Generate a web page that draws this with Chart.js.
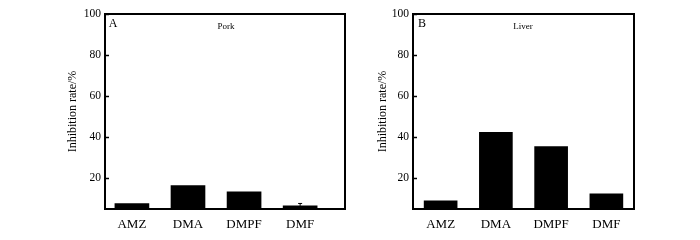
<!DOCTYPE html>
<html lang="en">
<head>
    <meta charset="UTF-8">
    <title>Inhibition rate</title>
    <style>
        body { margin: 0; background: #fff; }
        .wrap { position: relative; width: 700px; height: 240px; }
        .box { position: absolute; top: 0; width: 350px; height: 240px; }
    </style>
    <script src="https://cdn.jsdelivr.net/npm/chart.js"></script>
</head>
<body>
    <div class="wrap">
        <div class="box" style="left:0"><canvas id="chartA"></canvas></div>
        <div class="box" style="left:350px"><canvas id="chartB"></canvas></div>
    </div>

    <script>
        const categories = ['AMZ', 'DMA', 'DMPF', 'DMF'];
        const positionsA = [1, 2, 3, 4];
        const porkValues = [7.6, 16.4, 13.4, 6.5];
        const porkErrors = [0, 0, 0, 1.2];
        const liverValues = [9.0, 42.4, 35.4, 12.4];
        const liverErrors = [0, 0, 0, 0];
        const yTicks = [20, 40, 60, 80, 100];

        const serif = '"Liberation Serif", "Times New Roman", serif';

        function makeChart(id, letter, name, values, errors, opt) {
            const framePlugin = {
                id: 'frame',
                afterDatasetsDraw(chart) {
                    const { ctx, chartArea: a, scales } = chart;
                    ctx.save();
                    ctx.strokeStyle = '#000';
                    // error bars
                    ctx.lineWidth = 1;
                    values.forEach((v, i) => {
                        if (!errors[i]) return;
                        const x = scales.x.getPixelForValue(positionsA[i]);
                        const y0 = scales.y.getPixelForValue(v);
                        const y1 = scales.y.getPixelForValue(v + errors[i]);
                        ctx.beginPath();
                        ctx.moveTo(x, y0); ctx.lineTo(x, y1);
                        ctx.moveTo(x - 2, y1); ctx.lineTo(x + 2, y1);
                        ctx.stroke();
                    });
                    // inward y ticks
                    ctx.lineWidth = 1.5;
                    scales.y.ticks.forEach(t => {
                        const y = Math.round(scales.y.getPixelForValue(t.value)) + 0.5;
                        ctx.beginPath();
                        ctx.moveTo(a.left, y); ctx.lineTo(a.left + 4, y);
                        ctx.stroke();
                    });
                    // box
                    ctx.lineWidth = 2;
                    ctx.strokeRect(a.left, a.top, a.right - a.left, a.bottom - a.top);
                    // texts
                    ctx.fillStyle = '#000';
                    ctx.textBaseline = 'middle';
                    ctx.textAlign = 'center';
                    ctx.font = '12px ' + serif;
                    ctx.fillText(letter, a.left + opt.letterDx, 24);
                    ctx.font = '9px ' + serif;
                    ctx.fillText(name, opt.nameX, 27);
                    ctx.restore();
                }
            };

            return new Chart(document.getElementById(id), {
                type: 'bar',
                data: {
                    datasets: [{
                        data: positionsA.map((p, i) => ({ x: p, y: values[i] })),
                        backgroundColor: '#000',
                        borderWidth: 0,
                        barThickness: opt.barW
                    }]
                },
                options: {
                    responsive: true,
                    maintainAspectRatio: false,
                    animation: false,
                    layout: { padding: { top: 14, right: opt.padRight, bottom: 0, left: 0 } },
                    plugins: { legend: { display: false }, tooltip: { enabled: false } },
                    scales: {
                        x: {
                            type: 'linear',
                            min: opt.xMin,
                            max: opt.xMax,
                            offset: false,
                            afterBuildTicks: s => { s.ticks = positionsA.map(v => ({ value: v })); },
                            afterFit: s => { s.height = 31; },
                            grid: { display: false, drawTicks: false },
                            border: { display: false },
                            ticks: {
                                padding: 8,
                                color: '#000',
                                font: { family: serif, size: 13 },
                                callback: v => categories[v - 1]
                            }
                        },
                        y: {
                            min: 5,
                            max: 100,
                            afterBuildTicks: s => { s.ticks = yTicks.map(v => ({ value: v })); },
                            afterFit: s => { s.width = opt.yWidth; },
                            grid: { display: false, drawTicks: false },
                            border: { display: false },
                            ticks: {
                                padding: 4,
                                color: '#000',
                                font: { family: serif, size: 11.5 }
                            },
                            title: {
                                display: true,
                                text: 'Inhibition rate/%',
                                color: '#000',
                                font: { family: serif, size: 12 },
                                padding: { top: opt.titlePad, bottom: 0 }
                            }
                        }
                    }
                },
                plugins: [framePlugin]
            });
        }

        makeChart('chartA', 'A', 'Pork', porkValues, porkErrors,
            { xMin: 0.52, xMax: 4.8, barW: 34, padRight: 5, yWidth: 105, titlePad: 66, letterDx: 8, nameX: 226 });
        makeChart('chartB', 'B', 'Liver', liverValues, liverErrors,
            { xMin: 0.5, xMax: 4.5, barW: 33, padRight: 66, yWidth: 63, titlePad: 26, letterDx: 9, nameX: 173 });
    </script>
</body>
</html>
